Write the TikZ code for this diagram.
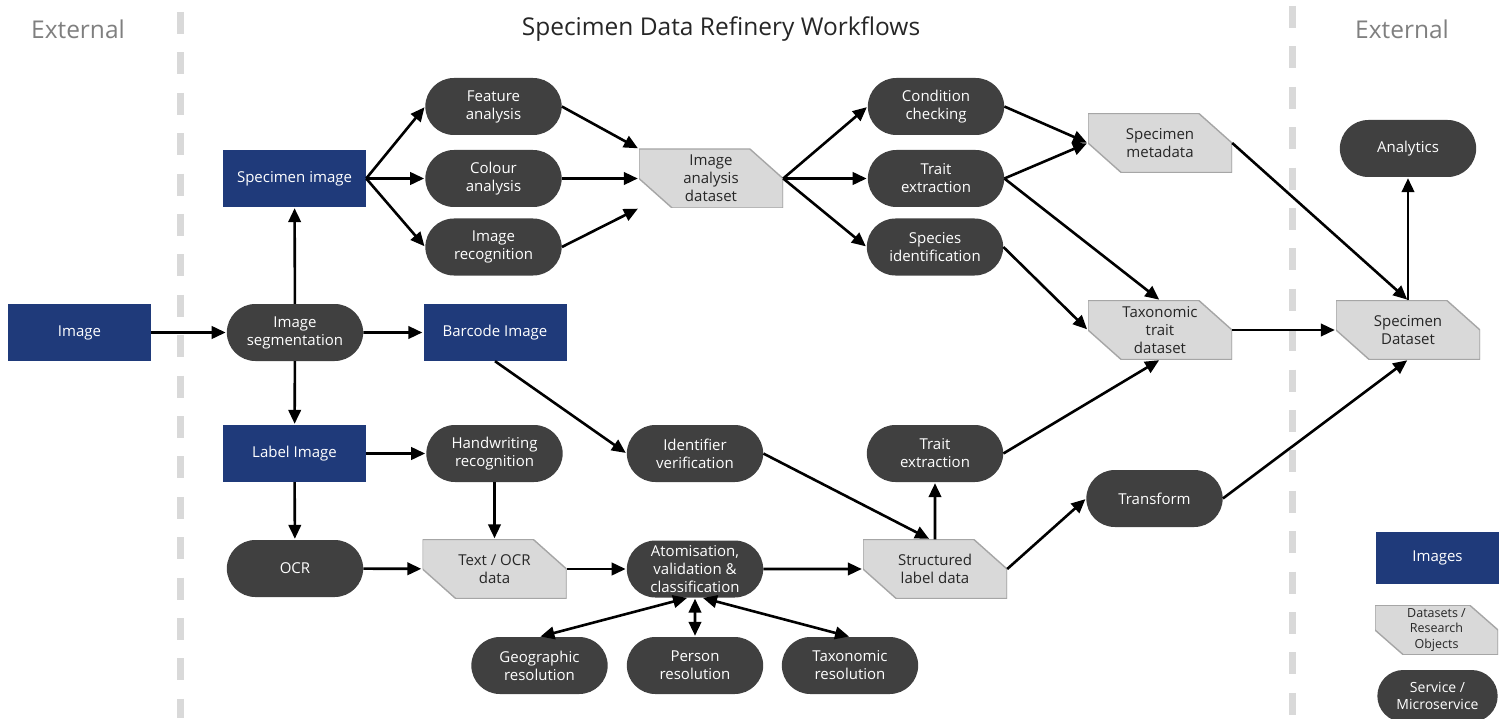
\documentclass[tikz,border=0pt]{standalone}
\usepackage{fontspec}
\setmainfont{Open Sans}
\definecolor{imageblue}{RGB}{31,58,122}
\definecolor{servicegrey}{RGB}{64,64,64}
\definecolor{datafill}{RGB}{217,217,217}
\definecolor{dataline}{RGB}{166,166,166}
\definecolor{dividergrey}{RGB}{217,217,217}
\definecolor{headgrey}{RGB}{127,127,127}
\usetikzlibrary{
  arrows.meta,
  calc,
  positioning,
  shapes.misc,
}
\newcommand{\nodefont}{\fontsize{15}{18}\selectfont}
\newcommand{\headfont}{\fontsize{24.5}{28}\selectfont}
\tikzset{
  >={Triangle[length=14pt,width=12.5pt]},
  shorten >=1pt,
  flow/.style={->,line width=2.6pt,black},
  twoway/.style={<->,line width=2.6pt,black,shorten <=1pt},
  divider/.style={dividergrey,line width=7pt,dash pattern=on 22pt off 18.4pt},
  imagebox/.style={rectangle,fill=imageblue,text=white,minimum width=143pt,minimum height=57pt,align=center,font=\nodefont},
  service/.style={rounded rectangle,fill=servicegrey,text=white,minimum width=143pt,minimum height=57pt,align=center,font=\nodefont},
  dataset/.style={rectangle,fill=white,minimum width=144pt,minimum height=59pt,align=center,font=\nodefont,text=black!85,
    path picture={
      \filldraw[fill=datafill,draw=dataline,line width=1.4pt]
        (path picture bounding box.north west)
        -- ($(path picture bounding box.north east)!0.23!(path picture bounding box.north west)$)
        -- (path picture bounding box.east)
        -- (path picture bounding box.south east)
        -- ($(path picture bounding box.south west)!0.23!(path picture bounding box.south east)$)
        -- (path picture bounding box.west) -- cycle;
    }},
}

\begin{document}
\begin{tikzpicture}[x=1pt,y=-1pt]
    \useasboundingbox (0,0) rectangle (1503,719);

    \draw[divider] (180,12) -- (180,719);
    \draw[divider] (1292,6) -- (1292,719);

    \node[headgrey,font=\headfont]  (extleft)  at (78,29)   {External};
    \node[black!85,font=\headfont]  (title)    at (721,29)  {Specimen Data Refinery Workflows};
    \node[headgrey,font=\headfont]  (extright) at (1402,29) {External};

    \node[imagebox] (image)   at (79.5,332.5)  {Image};
    \node[service]  (seg)     at (295,332.5)   {Image\\segmentation};
    \node[imagebox] (spec)    at (294.5,178.5) {Specimen image};
    \node[imagebox] (barcode) at (495,332.5)   {Barcode Image};
    \node[imagebox] (label)   at (294.5,453.5) {Label Image};
    \node[service]  (ocr)     at (295,568.5)   {OCR};

    \node[service] (feature) at (493.5,106.5) {Feature\\analysis};
    \node[service] (colour)  at (493.5,178.5) {Colour\\analysis};
    \node[service] (recog)   at (493.5,247)   {Image\\recognition};
    \node[dataset] (imgdata) at (711,178.5)   {Image\\analysis\\dataset};

    \node[service] (condition) at (936,106.5) {Condition\\checking};
    \node[service] (traittop)  at (936,178.5) {Trait\\extraction};
    \node[service] (species)   at (935,247)   {Species\\identification};

    \node[dataset] (metadata)  at (1160,143)    {Specimen\\metadata};
    \node[dataset] (taxtrait)  at (1160,330)    {Taxonomic\\trait\\dataset};
    \node[dataset] (specdata)  at (1408,330)    {Specimen\\Dataset};
    \node[service] (analytics) at (1408,148.5)  {Analytics};

    \node[service] (handwriting) at (494.5,453.5) {Handwriting\\recognition};
    \node[service] (identifier)  at (695,453.5)   {Identifier\\verification};
    \node[service] (traitlow)    at (935,453.5)   {Trait\\extraction};
    \node[service] (transform)   at (1154.5,498.5) {Transform};

    \node[dataset] (ocrdata)    at (494.5,569) {Text / OCR\\data};
    \node[service] (atomise)    at (695,569)   {Atomisation,\\validation \&\\classification};
    \node[dataset] (structured) at (935,569)   {Structured\\label data};

    \node[service] (geo)    at (539.5,665.5) {Geographic\\resolution};
    \node[service] (person) at (695,665.5)   {Person\\resolution};
    \node[service] (taxres) at (850,665.5)   {Taxonomic\\resolution};

    \node[imagebox,minimum width=123pt,minimum height=52pt] (legimages) at (1437.5,558) {Images};
    \node[dataset,minimum width=123pt,minimum height=47pt,font=\fontsize{12.5}{15.5}\selectfont] (legdata) at (1436.5,630) {Datasets /\\Research\\Objects};
    \node[service,minimum width=127pt,minimum height=52pt,font=\fontsize{14}{17}\selectfont] (legservice) at (1437.5,696) {Service /\\Microservice};

    \draw[flow] (image) -- (seg);
    \draw[flow] (seg) -- (spec);
    \draw[flow] (seg) -- (barcode);
    \draw[flow] (seg) -- (label);
    \draw[flow] (spec.east) -- (feature.west);
    \draw[flow] (spec.east) -- (colour.west);
    \draw[flow] (spec.east) -- (recog.west);
    \draw[flow] (feature.east) -- (imgdata.north west);
    \draw[flow] (colour) -- (imgdata);
    \draw[flow] (recog.east) -- (imgdata.south west);
    \draw[flow] (imgdata.east) -- (condition.west);
    \draw[flow] (imgdata.east) -- (traittop.west);
    \draw[flow] (imgdata.east) -- (species.west);
    \draw[flow] (condition.east) -- (metadata.west);
    \draw[flow] (traittop.east) -- (metadata.west);
    \draw[flow] (traittop.east) -- (taxtrait.north);
    \draw[flow] (species.east) -- (taxtrait.west);
    \draw[flow] (metadata.east) -- (specdata.north);
    \draw[flow] (specdata.north) -- (analytics.south);
    \draw[flow] (taxtrait) -- (specdata);

    \draw[flow] (barcode.south) -- (identifier.west);
    \draw[flow] (label) -- (handwriting);
    \draw[flow] (label) -- (ocr);
    \draw[flow] (handwriting) -- (ocrdata);
    \draw[flow] (ocr) -- (ocrdata);
    \draw[flow] (ocrdata) -- (atomise);
    \draw[flow] (atomise) -- (structured);
    \draw[flow] (identifier.east) -- ([xshift=-5pt]structured.north);
    \draw[flow] (structured) -- (traitlow);
    \draw[flow] (structured.east) -- (transform.west);
    \draw[flow] (traitlow.east) -- (taxtrait.south);
    \draw[flow] (transform.east) -- (specdata.south);

    \draw[twoway] ([xshift=-7pt]atomise.south) -- (geo.north);
    \draw[twoway] (atomise) -- (person);
    \draw[twoway] ([xshift=7pt]atomise.south) -- (taxres.north);
\end{tikzpicture}
\end{document}
